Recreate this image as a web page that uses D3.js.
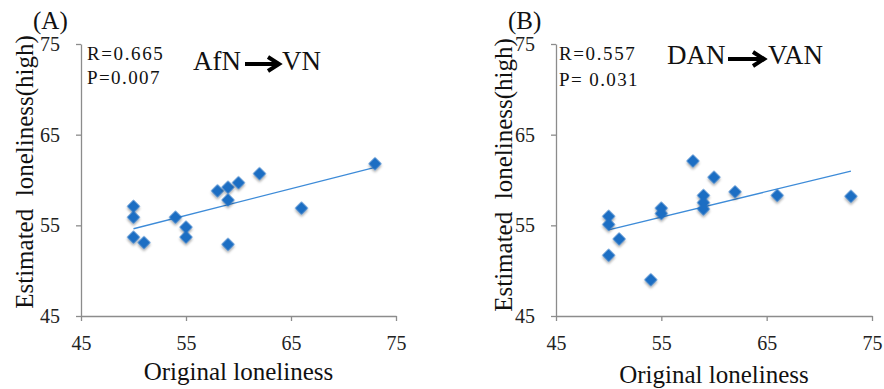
<!DOCTYPE html>
<html>
<head>
<meta charset="utf-8">
<script src="https://cdn.jsdelivr.net/npm/d3@7"></script>
<style>
  body { margin: 0; background: #fff; }
  svg { display: block; }
  text { font-family: "Liberation Serif", "Times New Roman", serif; fill: #111; }
  .axis path, .axis line { stroke: #8c8c8c; stroke-width: 1.3; }
  .axis text { font-size: 20px; fill: #222; }
</style>
</head>
<body>
<div id="chart"></div>
<script>
// data (15 participants)
var originalA  = [50, 50, 50, 51, 54, 55, 55, 58, 59, 59, 59, 60, 62, 66, 73];
var estimatedA = [57.1, 55.9, 53.7, 53.1, 55.9, 54.8, 53.7, 58.8, 59.2, 57.8, 52.9, 59.7, 60.7, 56.9, 61.8];
var originalB  = [50, 50, 50, 51, 54, 55, 55, 58, 59, 59, 59, 60, 62, 66, 73];
var estimatedB = [56.0, 55.1, 51.7, 53.5, 49.0, 56.9, 56.3, 62.1, 58.3, 57.5, 56.8, 60.3, 58.7, 58.3, 58.2];
var tickValues = [45, 55, 65, 75];
var panelLabels = ["(A)", "(B)"];
var statsR = ["R=0.665", "R=0.557"];
var statsP = ["P=0.007", "P= 0.031"];
var fromNet = ["AfN", "DAN"];
var toNet = ["VN", "VAN"];
var xTitle = "Original loneliness";
var yTitle = "Estimated  loneliness(high)";

var width = 884, height = 389;

// layout for each panel (pixel geometry only)
var panels = [
  { left: 81,  right: 396, top: 44, bottom: 316, yTitleX: 33,  yTitleY: 172, xTitleY: 380,
    labelX: 33,  statX: 87,  rY: 60, pY: 84, netY: 70, fromX: 193, arrowX0: 245, arrowX1: 279, arrowY: 64, toX: 282,
    x: originalA, y: estimatedA },
  { left: 556, right: 872, top: 44, bottom: 316, yTitleX: 512, yTitleY: 175, xTitleY: 383,
    labelX: 508, statX: 559, rY: 60, pY: 86, netY: 64, fromX: 667, arrowX0: 728, arrowX1: 764, arrowY: 59, toX: 768,
    x: originalB, y: estimatedB }
];

var svg = d3.select("#chart").append("svg")
    .attr("width", width)
    .attr("height", height);

var defs = svg.append("defs");
var shadow = defs.append("filter").attr("id", "shadow")
    .attr("x", "-50%").attr("y", "-50%").attr("width", "200%").attr("height", "200%");
shadow.append("feDropShadow")
    .attr("dx", 1.5).attr("dy", 1.5).attr("stdDeviation", 1.2)
    .attr("flood-color", "#000").attr("flood-opacity", 0.35);

var diamond = d3.symbol(d3.symbolSquare, 86);

panels.forEach(function(p, k) {
  var x = d3.scaleLinear().domain([45, 75]).range([p.left, p.right]);
  var y = d3.scaleLinear().domain([45, 75]).range([p.bottom, p.top]);
  var g = svg.append("g");

  // axes
  g.append("g")
    .attr("class", "axis")
    .attr("transform", "translate(0," + p.bottom + ")")
    .call(d3.axisBottom(x).tickValues(tickValues).tickSize(5).tickSizeOuter(0).tickPadding(15));

  g.append("g")
    .attr("class", "axis")
    .attr("transform", "translate(" + p.left + ",0)")
    .call(d3.axisLeft(y).tickValues(tickValues).tickSize(5).tickSizeOuter(0).tickPadding(16));

  g.selectAll(".axis").attr("font-family", null).attr("font-size", null);

  // least squares trend line
  var pts = p.x.map(function(v, i) { return [v, p.y[i]]; });
  var mx = d3.mean(p.x), my = d3.mean(p.y);
  var sxy = d3.sum(pts, function(d) { return (d[0] - mx) * (d[1] - my); });
  var sxx = d3.sum(pts, function(d) { return (d[0] - mx) * (d[0] - mx); });
  var slope = sxy / sxx, icpt = my - slope * mx;
  var ext = d3.extent(p.x);

  g.append("line")
    .attr("x1", x(ext[0])).attr("y1", y(icpt + slope * ext[0]))
    .attr("x2", x(ext[1])).attr("y2", y(icpt + slope * ext[1]))
    .attr("stroke", "#3d8bd8")
    .attr("stroke-width", 1.3);

  g.selectAll(".pt")
    .data(pts)
    .enter().append("path")
      .attr("class", "pt")
      .attr("d", diamond)
      .attr("transform", function(d) { return "translate(" + x(d[0]) + "," + y(d[1]) + ") rotate(45)"; })
      .attr("fill", "#1d6ec3")
      .attr("filter", "url(#shadow)");

  // titles
  g.append("text")
    .attr("transform", "translate(" + p.yTitleX + "," + p.yTitleY + ") rotate(-90)")
    .attr("text-anchor", "middle")
    .style("white-space", "pre")
    .style("font-size", "25px")
    .text(yTitle);

  g.append("text")
    .attr("x", (p.left + p.right) / 2)
    .attr("y", p.xTitleY)
    .attr("text-anchor", "middle")
    .style("font-size", "25px")
    .text(xTitle);

  g.append("text")
    .attr("x", p.labelX).attr("y", 29)
    .style("font-size", "25px")
    .text(panelLabels[k]);

  // stats
  g.append("text")
    .attr("x", p.statX).attr("y", p.rY)
    .style("font-size", "19px").style("letter-spacing", "1.6px").style("white-space", "pre")
    .text(statsR[k]);
  g.append("text")
    .attr("x", p.statX).attr("y", p.pY)
    .style("font-size", "19px").style("letter-spacing", "1.4px").style("white-space", "pre")
    .text(statsP[k]);

  // network annotation with arrow
  g.append("text")
    .attr("x", p.fromX).attr("y", p.netY)
    .style("font-size", "27px")
    .text(fromNet[k]);
  g.append("text")
    .attr("x", p.toX).attr("y", p.netY)
    .style("font-size", "27px")
    .text(toNet[k]);
  g.append("line")
    .attr("x1", p.arrowX0).attr("y1", p.arrowY)
    .attr("x2", p.arrowX1 - 3).attr("y2", p.arrowY)
    .attr("stroke", "#000").attr("stroke-width", 4);
  g.append("path")
    .attr("d", "M" + (p.arrowX1 - 11) + "," + (p.arrowY - 7) +
               "L" + p.arrowX1 + "," + p.arrowY +
               "L" + (p.arrowX1 - 11) + "," + (p.arrowY + 7))
    .attr("fill", "none").attr("stroke", "#000").attr("stroke-width", 4)
    .attr("stroke-linejoin", "miter");
});
</script>
</body>
</html>
